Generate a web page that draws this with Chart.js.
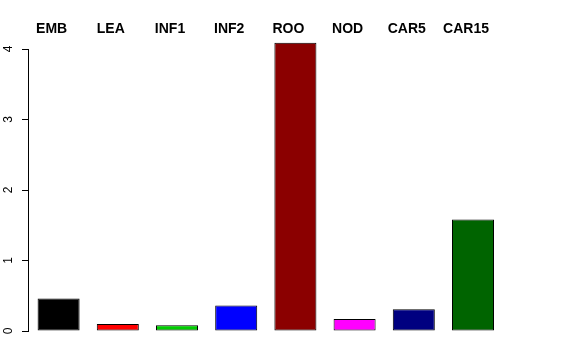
<!DOCTYPE html>
<html>
<head>
<meta charset="utf-8">
<script src="https://cdn.jsdelivr.net/npm/chart.js@4"></script>
<style>
  html, body { margin: 0; padding: 0; background: #fff; }
  #wrap { width: 576px; height: 360px; }
</style>
</head>
<body>
<div id="wrap"><canvas id="c" width="576" height="360"></canvas></div>
<script>
// tissue values
const tissues = ["EMB", "LEA", "INF1", "INF2", "ROO", "NOD", "CAR5", "CAR15"];
const values = [0.46, 0.10, 0.08, 0.36, 4.09, 0.17, 0.31, 1.58];
const barColors = ["#000000", "#FF0000", "#00CD00", "#0000FF", "#8B0000", "#FF00FF", "#000080", "#006400"];
const yTicks = [0, 1, 2, 3, 4];

// R-style axis line that only spans the tick range, plus names on top
const rStyle = {
  id: "rStyle",
  afterDraw(chart) {
    const { ctx, scales: { x, y } } = chart;
    ctx.save();
    ctx.strokeStyle = "#000";
    ctx.lineWidth = 1;
    const ax = Math.round(chart.chartArea.left) - 0.5;
    ctx.beginPath();
    ctx.moveTo(ax, Math.round(y.getPixelForValue(yTicks[0])) + 0.5);
    ctx.lineTo(ax, Math.round(y.getPixelForValue(yTicks[yTicks.length - 1])) + 0.5);
    ctx.stroke();

    ctx.fillStyle = "#000";
    ctx.font = "bold 14px 'Liberation Sans', Arial, sans-serif";
    ctx.textAlign = "center";
    ctx.textBaseline = "middle";
    tissues.forEach((t, i) => {
      ctx.fillText(t, x.getPixelForValue(i) - 7, 29.5);
    });
    ctx.restore();
  },
};

new Chart(document.getElementById("c"), {
  type: "bar",
  data: {
    labels: tissues,
    datasets: [{
      data: values,
      backgroundColor: barColors,
      borderColor: "#000",
      borderWidth: 1,
      borderSkipped: false,
      barPercentage: 0.71,
      categoryPercentage: 1,
    }],
  },
  options: {
    responsive: false,
    animation: false,
    devicePixelRatio: 1,
    layout: { padding: { left: 0, top: 31.4, right: 73.4, bottom: 29 } },
    plugins: { legend: { display: false }, tooltip: { enabled: false } },
    scales: {
      x: { display: false },
      y: {
        min: 0,
        max: 4.25,
        afterBuildTicks: (s) => { s.ticks = yTicks.map((v) => ({ value: v })); },
        afterFit: (s) => { s.width = 29; },
        border: { display: false },
        grid: { drawOnChartArea: false, color: "#000", tickLength: 7 },
        ticks: {
          minRotation: 90,
          maxRotation: 90,
          crossAlign: "center",
          padding: 10,
          color: "#000",
          font: { family: "'Liberation Sans', Arial, sans-serif", size: 12 },
        },
      },
    },
  },
  plugins: [rStyle],
});
</script>
</body>
</html>
